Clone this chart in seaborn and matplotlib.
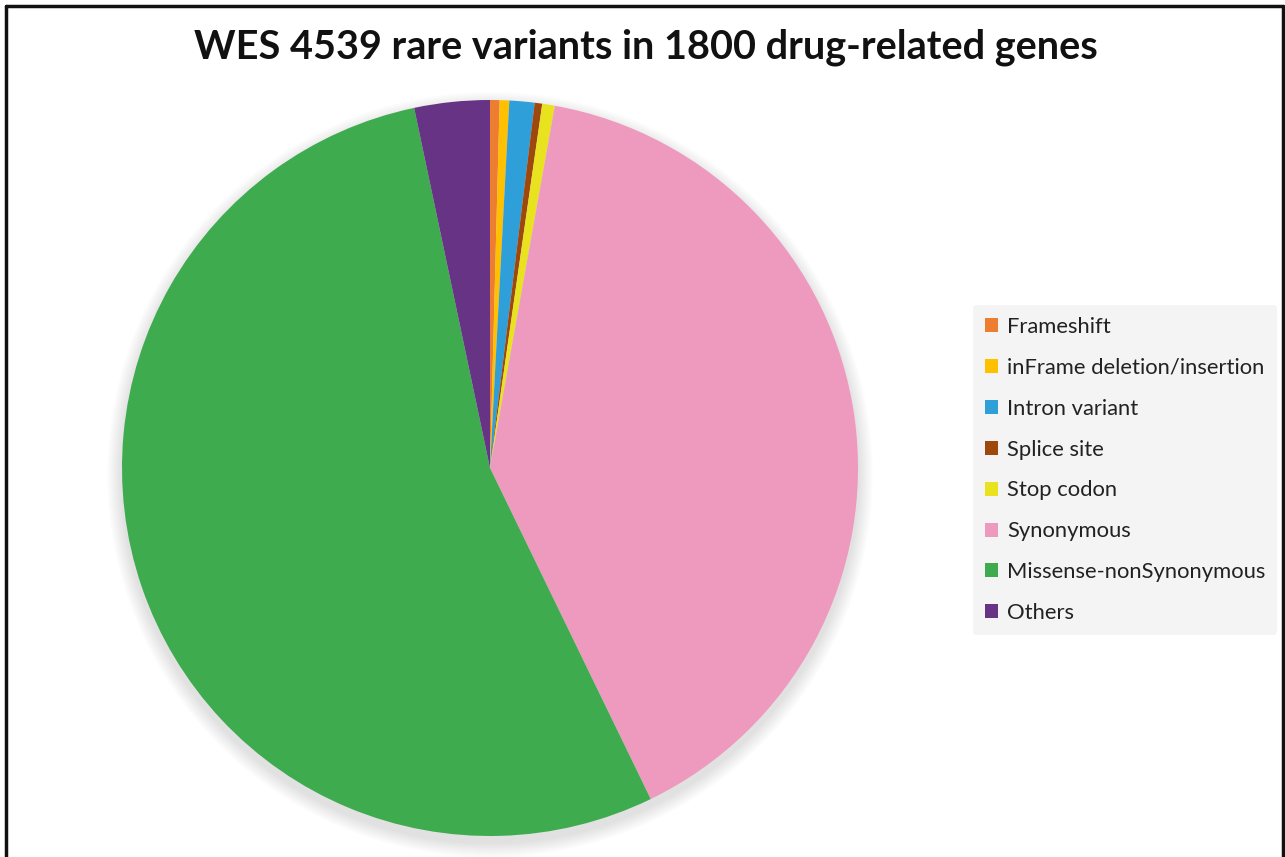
import matplotlib
matplotlib.use("Agg")
import matplotlib.pyplot as plt
import seaborn as sns
from matplotlib.patches import Patch, Circle
from matplotlib.lines import Line2D

categories = ["Frameshift", "inFrame deletion/insertion", "Intron variant", "Splice site",
              "Stop codon", "Synonymous", "Missense-nonSynonymous", "Others"]
counts = [19, 19, 50, 15, 25, 1815, 2446, 150]
colors = ["#ED7D31", "#FFC000", "#2E9FD8", "#9E480E", "#E8E21F", "#EE9ABF", "#3FAB4F", "#663385"]
title = "WES 4539 rare variants in 1800 drug-related genes"

sns.set_theme(style="white")
plt.rcParams['font.family'] = ['Lato', 'DejaVu Sans']

W, H = 1285, 857
fig = plt.figure(figsize=(W / 100, H / 100), dpi=100)
fig.patch.set_facecolor("white")

cx, cy, r = 490, 468, 368
pad = 1.08
ax = fig.add_axes([(cx - r * pad) / W, (H - cy - r * pad) / H, 2 * r * pad / W, 2 * r * pad / H])
ax.set_aspect("equal")
ax.axis("off")

# soft shadow (mostly below)
for k in range(10):
    ax.add_patch(Circle((0, -0.018), 1.0 + 0.004 * (10 - k), color="black",
                        alpha=0.010, lw=0, zorder=0))

wedges, _ = ax.pie(counts, colors=colors, startangle=90, counterclock=False, radius=1,
                   wedgeprops=dict(linewidth=0, edgecolor="none"))
for w in wedges:
    w.set_zorder(2)
ax.set_xlim(-pad, pad)
ax.set_ylim(-pad, pad)

fig.text(646 / W, 1 - 47 / H, title, ha="center", va="center",
         fontsize=28.5, fontweight="bold", color="#111111")

handles = [Patch(facecolor=c, edgecolor="none") for c in colors]
leg = fig.legend(handles, categories, loc="upper left",
                 bbox_to_anchor=(973 / W, 1 - 305 / H), frameon=True,
                 fontsize=15.8, handlelength=0.6, handleheight=0.6,
                 handletextpad=0.4, labelspacing=0.95, borderpad=0.55,
                 borderaxespad=0)
leg.get_frame().set_facecolor("#f4f4f4")
leg.get_frame().set_edgecolor("none")
leg.get_frame().set_alpha(1)
for t in leg.get_texts():
    t.set_color("#222222")

# border frame (bottom edge cut off)
lw = 2.5
for (x0, y0, x1, y1) in [(6, 6, 1283, 6), (6, 6, 6, 870), (1283, 6, 1283, 870)]:
    fig.add_artist(Line2D([x0 / W, x1 / W], [1 - y0 / H, 1 - y1 / H],
                          transform=fig.transFigure, color="#111111", lw=lw))

fig.savefig("out.png", dpi=100)
